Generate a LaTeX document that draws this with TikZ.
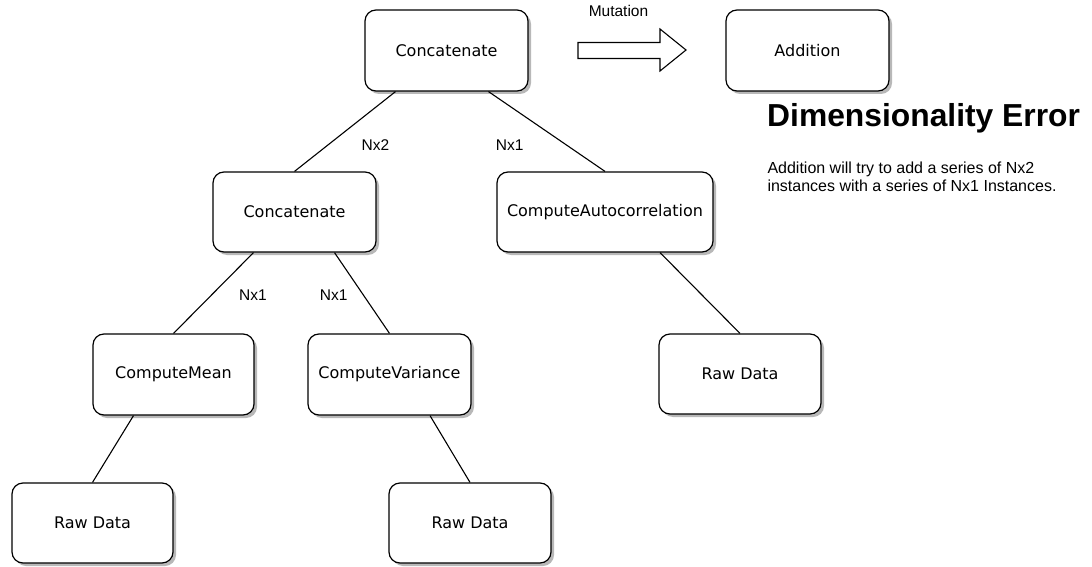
\documentclass[tikz,border=0pt]{standalone}
\usepackage{fontspec}
\setmainfont{DejaVu Sans}
\newfontfamily\helv{Liberation Sans}
\usetikzlibrary{shadows}

\tikzset{
  box/.style={draw=black, line width=1.2pt, fill=white, rounded corners=11pt,
    minimum width=163pt, minimum height=81pt, inner sep=0pt,
    font=\fontsize{16}{19}\selectfont,
    drop shadow={shadow xshift=3pt, shadow yshift=-3pt, fill=black!55, opacity=0.5}},
  link/.style={draw=black, line width=1.1pt},
  lbl/.style={inner sep=0pt, anchor=base, font=\helv\fontsize{15.5}{18}\selectfont},
  blockarrow/.style={draw=black, line width=1.1pt, fill=white, line join=miter}
}

\begin{document}
\begin{tikzpicture}[x=1pt, y=-1pt]
  \useasboundingbox[fill=white] (0,0) rectangle (1092,567);

  % tree of operations
  \node[box] (c1)   at (446.5,50.5) {Concatenate};
  \node[box] (add)  at (807.5,50.5) {Addition};
  \node[box, minimum height=80pt] (c2)   at (294.5,212) {Concatenate};
  \node[box, minimum width=216pt, minimum height=80pt] (auto) at (605,212) {ComputeAutocorrelation};
  \node[box, minimum width=161pt] (mean) at (173.5,374.5) {ComputeMean};
  \node[box] (var)  at (389.5,374.5) {ComputeVariance};
  \node[box, minimum width=162pt, minimum height=80pt] (rawR) at (740,374) {Raw Data};
  \node[box, minimum width=161pt, minimum height=80pt] (rawL) at (92.5,523) {Raw Data};
  \node[box, minimum width=162pt, minimum height=80pt] (rawM) at (470,523) {Raw Data};

  % connectors
  \draw[link] ([xshift=-51pt]c1.south) -- (c2.north);
  \draw[link] ([xshift=42pt]c1.south) -- (auto.north);
  \draw[link] ([xshift=-41pt]c2.south) -- (mean.north);
  \draw[link] ([xshift=40pt]c2.south) -- (var.north);
  \draw[link] ([xshift=-40pt]mean.south) -- (rawL.north);
  \draw[link] ([xshift=40.5pt]var.south) -- (rawM.north);
  \draw[link] ([xshift=55pt]auto.south) -- (rawR.north);

  % dimension labels
  \node[lbl] (l1) at (375.5,150.7) {Nx2};
  \node[lbl] (l2) at (509.7,150.7) {Nx1};
  \node[lbl] (l3) at (253,300) {Nx1};
  \node[lbl] (l4) at (333.7,300) {Nx1};

  % mutation arrow
  \draw[blockarrow] (578,42.5) -- (660,42.5) -- (660,29) -- (686,50)
    -- (660,71) -- (660,58.5) -- (578,58.5) -- cycle;
  \node[lbl] (mut) at (618.5,16.7) {Mutation};

  % error description
  \node[inner sep=0pt, anchor=base west, font=\helv\bfseries\fontsize{31.8}{36}\selectfont]
    (title) at (767,126.7) {Dimensionality Error};
  \node[inner sep=0pt, anchor=base west, font=\helv\fontsize{16}{18.4}\selectfont]
    (desc1) at (767.3,173.3) {Addition will try to add a series of Nx2};
  \node[inner sep=0pt, anchor=base west, font=\helv\fontsize{16}{18.4}\selectfont]
    (desc2) at (767.3,191.7) {instances with a series of Nx1 Instances.};
\end{tikzpicture}
\end{document}
